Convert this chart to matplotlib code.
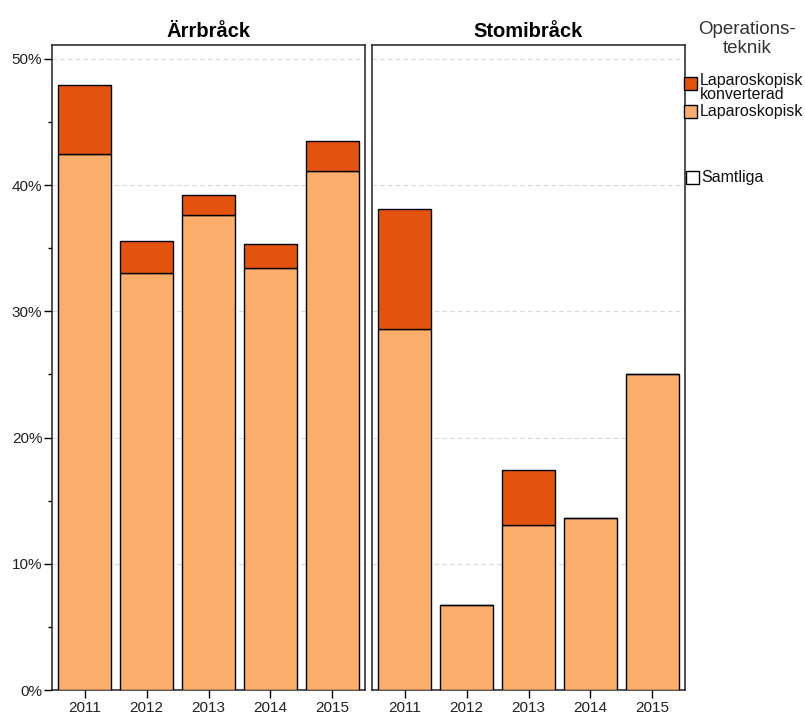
import matplotlib
matplotlib.use("Agg")
import matplotlib.pyplot as plt
from matplotlib.patches import Rectangle
from matplotlib.ticker import MultipleLocator, FuncFormatter

plt.rcParams['font.family'] = ['Liberation Sans', 'DejaVu Sans']

years = ['2011', '2012', '2013', '2014', '2015']
panels = ['Ärrbråck', 'Stomibråck']
# percent values
lap_arr = [42.5, 33.0, 37.6, 33.4, 41.1]
total_arr = [47.9, 35.6, 39.2, 35.3, 43.5]
lap_stomi = [28.6, 6.7, 13.1, 13.6, 25.0]
total_stomi = [38.1, 6.7, 17.4, 13.6, 25.0]

legend_title = 'Operations-\nteknik'
legend_labels = ['Laparoskopisk\nkonverterad', 'Laparoskopisk', 'Samtliga']

c_dark = '#E3530F'
c_light = '#FBAD6B'

W, H = 805, 717
fig = plt.figure(figsize=(W / 100, H / 100), dpi=100)

def ax_rect(x0, x1, y0, y1):
    return [x0 / W, 1 - y1 / H, (x1 - x0) / W, (y1 - y0) / H]

ax1 = fig.add_axes(ax_rect(52, 365, 45, 690))
ax2 = fig.add_axes(ax_rect(372, 685, 45, 690))

data = [(lap_arr, total_arr), (lap_stomi, total_stomi)]
xs = list(range(len(years)))
for ax, title, (lap, tot) in zip([ax1, ax2], panels, data):
    conv = [t - l for l, t in zip(lap, tot)]
    ax.bar(xs, lap, width=0.86, color=c_light, edgecolor='black', linewidth=1.0, zorder=3)
    ax.bar(xs, conv, bottom=lap, width=0.86, color=c_dark, edgecolor='black', linewidth=1.0, zorder=3)
    ax.set_xlim(-0.53, 4.53)
    ax.set_ylim(0, 51.1)
    ax.set_xticks(xs)
    ax.set_xticklabels(years, fontsize=11, color='#222222')
    ax.yaxis.set_major_locator(MultipleLocator(10))
    ax.yaxis.set_minor_locator(MultipleLocator(5))
    ax.yaxis.set_major_formatter(FuncFormatter(lambda v, p: f'{v:.0f}%'))
    ax.grid(axis='y', which='major', linestyle=(0, (4, 3)), color='#d9d9d9', linewidth=0.8, zorder=0)
    ax.tick_params(axis='x', length=6, width=1, pad=2)
    ax.tick_params(axis='y', which='major', length=6, width=1, labelsize=11, pad=1, labelcolor='#222222')
    ax.tick_params(axis='y', which='minor', length=3, width=1)
    for s in ax.spines.values():
        s.set_linewidth(1.1)
        s.set_color('#222222')
    ax.set_title(title, fontsize=14.5, fontweight='bold', pad=6)

ax2.tick_params(axis='y', which='both', left=False, labelleft=False)

# legend
fig.text(747 / W, 1 - 21 / H, legend_title, ha='center', va='top', fontsize=13.5,
         color='#333333', linespacing=1.15)
patch_specs = [(684, 77, c_dark), (684, 105, c_light), (686, 171, 'white')]
text_pos = [(700, 73), (700, 104), (701, 170)]
for (px, py, col), (tx, ty), lab in zip(patch_specs, text_pos, legend_labels):
    fig.patches.append(Rectangle((px / W, 1 - (py + 13) / H), 13 / W, 13 / H,
                                 transform=fig.transFigure, facecolor=col,
                                 edgecolor='black', linewidth=1.0))
    fig.text(tx / W, 1 - ty / H, lab, ha='left', va='top', fontsize=11.5,
             linespacing=0.92, color='#111111')

fig.savefig('out.png', dpi=100)
